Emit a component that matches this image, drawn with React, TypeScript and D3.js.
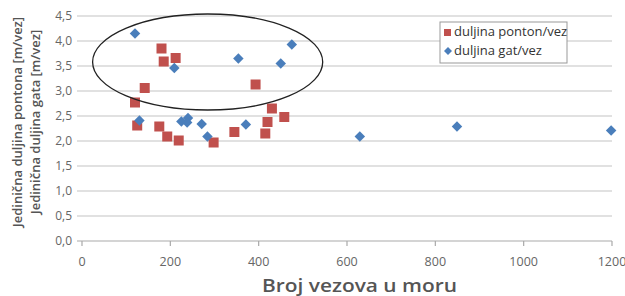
import React, { useRef, useEffect } from "react";
import * as d3 from "d3";

// duljina ponton/vez
const pontonX = [120, 125, 142, 180, 185, 212, 175, 193, 219, 298, 345, 393, 415, 420, 430, 458];
const pontonY = [2.77, 2.31, 3.06, 3.85, 3.59, 3.66, 2.29, 2.09, 2.01, 1.97, 2.18, 3.13, 2.15, 2.38, 2.65, 2.48];

// duljina gat/vez
const gatX = [120, 130, 209, 225, 240, 238, 271, 284, 354, 371, 450, 475, 629, 849, 1198];
const gatY = [4.15, 2.41, 3.46, 2.39, 2.46, 2.37, 2.34, 2.09, 3.65, 2.33, 3.55, 3.93, 2.09, 2.29, 2.21];

const xTicks = [0, 200, 400, 600, 800, 1000, 1200];
const yTicks = [0, 0.5, 1, 1.5, 2, 2.5, 3, 3.5, 4, 4.5];

// hand-drawn ellipse round the upper group, in data units
const ellipseX = [24, 545];
const ellipseY = [2.62, 4.54];

const seriesNames = ["duljina ponton/vez", "duljina gat/vez"];

function App() {
  const ref = useRef<SVGSVGElement>(null);

  useEffect(() => {
    const svg = d3.select(ref.current);
    svg.selectAll("*").remove();

    const font = "'Open Sans', 'DejaVu Sans', sans-serif";
    const x = d3.scaleLinear().domain([0, 1200]).range([82, 612]);
    const y = d3.scaleLinear().domain([0, 4.5]).range([241, 16]);

    // gridlines
    svg.append("g")
      .selectAll("line")
      .data(yTicks)
      .join("line")
      .attr("x1", 77)
      .attr("x2", 612)
      .attr("y1", (d) => y(d))
      .attr("y2", (d) => y(d))
      .attr("stroke", (d) => (d === 0 ? "#a9a9a9" : "#c4c4c4"))
      .attr("stroke-width", 1.2);

    // y tick labels
    svg.append("g")
      .selectAll("text")
      .data(yTicks)
      .join("text")
      .attr("x", 72)
      .attr("y", (d) => y(d) + 4)
      .attr("text-anchor", "end")
      .attr("font-family", font)
      .attr("font-size", 12)
      .attr("fill", "#666")
      .text((d) => d3.format(".1f")(d).replace(".", ","));

    // x axis ticks and labels
    const xa = svg.append("g");
    xa.selectAll("line")
      .data(xTicks)
      .join("line")
      .attr("x1", (d) => x(d))
      .attr("x2", (d) => x(d))
      .attr("y1", y(0))
      .attr("y2", y(0) + 5)
      .attr("stroke", "#a9a9a9")
      .attr("stroke-width", 1.2);
    xa.selectAll("text")
      .data(xTicks)
      .join("text")
      .attr("x", (d) => x(d))
      .attr("y", 266)
      .attr("text-anchor", "middle")
      .attr("font-family", font)
      .attr("font-size", 12.5)
      .attr("fill", "#666")
      .text((d) => String(d));

    // axis titles
    svg.append("text")
      .attr("x", 262)
      .attr("y", 292)
      .attr("textLength", 195)
      .attr("lengthAdjust", "spacingAndGlyphs")
      .attr("font-family", font)
      .attr("font-size", 18)
      .attr("font-weight", 600)
      .attr("fill", "#555")
      .text("Broj vezova u moru");

    const yTitles = ["Jedinična duljina pontona [m/vez]", "Jedinična duljina gata [m/vez]"];
    svg.append("g")
      .selectAll("text")
      .data(yTitles)
      .join("text")
      .attr("transform", (_, i) => `translate(${22 + i * 18},122) rotate(-90)`)
      .attr("text-anchor", "middle")
      .attr("font-family", font)
      .attr("font-size", 13)
      .attr("font-weight", 600)
      .attr("fill", "#555")
      .text((d) => d);

    // ponton squares
    const sq = 10;
    svg.append("g")
      .selectAll("rect")
      .data(d3.zip(pontonX, pontonY))
      .join("rect")
      .attr("x", (d) => x(d[0]) - sq / 2)
      .attr("y", (d) => y(d[1]) - sq / 2)
      .attr("width", sq)
      .attr("height", sq)
      .attr("fill", "#c0504d");

    // gat diamonds
    svg.append("g")
      .selectAll("path")
      .data(d3.zip(gatX, gatY))
      .join("path")
      .attr("transform", (d) => `translate(${x(d[0])},${y(d[1])}) rotate(45) scale(0.7071)`)
      .attr("d", d3.symbol().type(d3.symbolSquare).size(110))
      .attr("fill", "#4a7ebb");

    // ellipse
    const ex0 = x(ellipseX[0]), ex1 = x(ellipseX[1]);
    const ey0 = y(ellipseY[1]), ey1 = y(ellipseY[0]);
    svg.append("ellipse")
      .attr("cx", (ex0 + ex1) / 2)
      .attr("cy", (ey0 + ey1) / 2)
      .attr("rx", (ex1 - ex0) / 2)
      .attr("ry", (ey1 - ey0) / 2)
      .attr("fill", "none")
      .attr("stroke", "#222")
      .attr("stroke-width", 1.3);

    // legend
    const lg = svg.append("g").attr("transform", "translate(440,22)");
    lg.append("rect")
      .attr("width", 127)
      .attr("height", 41)
      .attr("fill", "#fff")
      .attr("stroke", "#999")
      .attr("stroke-width", 1);
    lg.append("rect")
      .attr("x", 4)
      .attr("y", 7)
      .attr("width", 7)
      .attr("height", 7)
      .attr("fill", "#c0504d");
    lg.append("path")
      .attr("transform", "translate(8,29) rotate(45) scale(0.7071)")
      .attr("d", d3.symbol().type(d3.symbolSquare).size(64))
      .attr("fill", "#4a7ebb");
    lg.selectAll("text")
      .data(seriesNames)
      .join("text")
      .attr("x", 14)
      .attr("y", (_, i) => 14 + i * 19)
      .attr("font-family", font)
      .attr("font-size", 13)
      .attr("fill", "#333")
      .text((d) => d);
  }, []);

  return (
    <svg
      ref={ref}
      width={625}
      height={296}
      style={{ position: "absolute", left: 0, top: 0, background: "#fff" }}
    />
  );
}

export default App;
